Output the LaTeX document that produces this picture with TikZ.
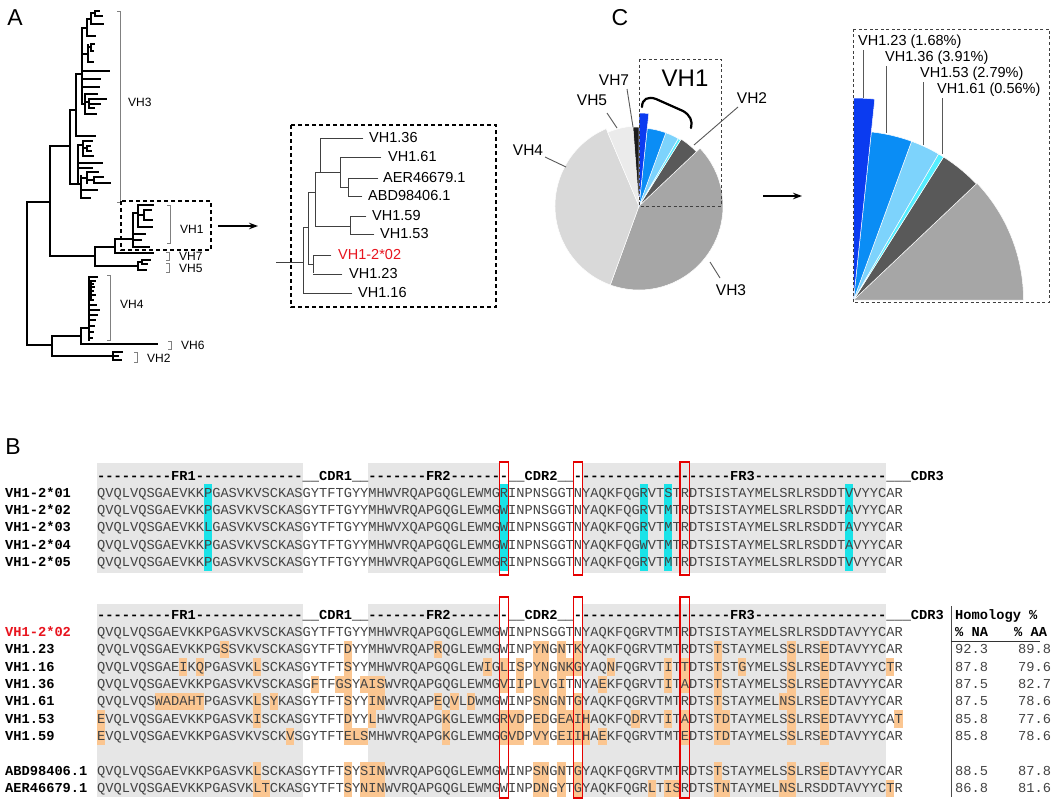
\documentclass[tikz,border=0pt]{standalone}
\usepackage{fontspec}
\setmainfont{Liberation Sans}
\usetikzlibrary{arrows.meta}
\font\seqfnt="Liberation Mono" at 13.7pt
\font\seqbf="Liberation Mono/B" at 13.7pt
\def\us{\char95 }
\definecolor{seqtext}{HTML}{444444}
\definecolor{bggrey}{HTML}{E6E6E6}
\definecolor{hlorange}{HTML}{FBC691}
\definecolor{hlcyan}{HTML}{19E3E8}
\definecolor{pieA}{HTML}{0B3BF0}
\definecolor{pieB}{HTML}{0A8DF5}
\definecolor{pieC}{HTML}{7DD3FC}
\definecolor{pieD}{HTML}{55EEFF}
\definecolor{pieVHtwo}{HTML}{595959}
\definecolor{pieVHthree}{HTML}{A6A6A6}
\definecolor{pieVHfour}{HTML}{D9D9D9}
\definecolor{pieVHfive}{HTML}{EBEBEB}
\definecolor{pieVHseven}{HTML}{1C1C1C}
\definecolor{myred}{HTML}{E8141E}
\newcommand\trH[3]{\draw[treeline] (#1,#3) -- (#2,#3);}
\newcommand\trV[3]{\draw[treeline] (#1,#2) -- (#1,#3);}
\newcommand\inH[3]{\draw[inline] (#1,#3) -- (#2,#3);}
\newcommand\inV[3]{\draw[inline] (#1,#2) -- (#1,#3);}
\newcommand\brk[3]{\draw[brk] (#1-3,#2) -- (#1,#2) -- (#1,#3) -- (#1-3,#3);}
\newcommand\hlrow[3]{\foreach \cc in {#3}{\fill[#1] ({97+\cc*8.22},{#2-8.67}) rectangle ({97+(\cc+1)*8.22},{#2+8.67});}}
\newcommand\redcol[3]{\draw[redbox] ({97+#1*8.22-0.6},#2) rectangle ({97+(#1+1)*8.22+0.6},#3);}
\newcommand\greyblk[4]{\fill[bggrey] ({97+#1*8.22},#3) rectangle ({97+#2*8.22},#4);}
\newcommand\sqrow[5]{\node[seqname,text=#5] (n#1) at (5,#2+4.2) {#3};
  \node[seqtxt] (s#1) at (97,#2+4.2) {#4};}
\newcommand\slice[4]{\fill[#4, draw=white, line width=0.5pt] (0,0) -- (#1:#3) arc[start angle=#1, end angle=#2, radius=#3] -- cycle;}
\newcommand\tabrow[4]{\node[tabtxt] (ta#1) at (955,#2+4.2) {#3};
  \node[tabtxt] (tb#1) at (1018,#2+4.2) {#4};}
\begin{document}
\begin{tikzpicture}[x=1pt,y=-1pt,
 treeline/.style={line width=1.2pt, black, line cap=rect},
 inline/.style={line width=0.9pt, black!75, line cap=rect},
 brk/.style={line width=0.7pt, black!50},
 lab/.style={font=\fontsize{12}{14}\selectfont, inner sep=0pt, anchor=west},
 ilab/.style={font=\fontsize{14.5}{16}\selectfont, inner sep=0pt, anchor=west},
 clab/.style={font=\fontsize{15.5}{17}\selectfont, inner sep=0pt},
 panel/.style={font=\fontsize{23}{26}\selectfont, inner sep=0pt},
 dbox/.style={line width=1.3pt, dash pattern=on 4pt off 3pt},
 gbox/.style={line width=0.9pt, black!75, dash pattern=on 3pt off 2.5pt},
 leader/.style={line width=0.9pt, black!65},
 redbox/.style={draw=red!90!black, line width=1.1pt},
 seqname/.style={anchor=base west, inner sep=0pt, font=\seqbf},
 seqtxt/.style={anchor=base west, inner sep=0pt, font=\seqfnt, text=seqtext},
 tabtxt/.style={anchor=base west, inner sep=0pt, font=\seqfnt, text=seqtext},
 tabhd/.style={anchor=base west, inner sep=0pt, font=\seqbf},
 arr/.style={-{Stealth[length=9pt,width=6.5pt]}, line width=1.3pt}]
\useasboundingbox (0,0) rectangle (1059,800);
\fill[white] (0,0) rectangle (1059,800);

% ---------------- panel letters
\node[panel] (lA) at (15,18) {A};
\node[panel] (lB) at (13,447) {B};
\node[panel] (lC) at (620,18) {C};

% ---------------- panel A : tree
\trV{27}{202}{345} \trH{27}{50}{202} \trV{50}{146}{256}
% VH3
\trH{50}{70}{146} \trV{70}{110}{184}
\trH{70}{76}{110} \trV{76}{74}{136} \trH{76}{95}{136}
\trH{76}{82}{74} \trV{82}{28}{104}
\trH{82}{87}{28} \trV{87}{19}{36}
\trH{87}{91}{19} \trV{91}{13}{24}
\trH{91}{95}{13} \trV{95}{11}{16} \trH{95}{99}{11} \trH{95}{102}{16}
\trH{91}{103}{24} \trH{87}{95}{36}
\trH{82}{88}{54} \trV{88}{45}{62}
\trH{88}{91}{47} \trV{91}{44}{51} \trH{91}{94}{44} \trH{91}{93}{51}
\trH{88}{93}{62}
\trH{82}{109}{71} \trH{82}{100}{79} \trH{82}{99}{87}
\trH{82}{85}{104} \trV{85}{94}{114}
\trH{85}{97}{94} \trH{85}{89}{102} \trV{89}{99}{108}
\trH{89}{106}{99} \trH{89}{100}{104} \trH{89}{94}{108}
\trH{85}{96}{114}
\trH{70}{78}{184} \trV{78}{145}{184}
\trH{78}{83}{145} \trV{83}{141}{156}
\trH{83}{92}{141} \trH{83}{87}{148} \trV{87}{146}{151} \trH{87}{90}{146} \trH{87}{91}{151}
\trH{83}{93}{156}
\trH{78}{102}{163} \trH{78}{92}{168}
\trH{78}{81}{184} \trV{81}{176}{198}
\trH{81}{87}{178} \trV{87}{172}{183} \trH{87}{98}{172}
\trH{87}{94}{180} \trV{94}{177}{183} \trH{94}{103}{177} \trH{94}{110}{183}
\trH{81}{97}{190} \trH{81}{90}{198}
% VH1 / VH7 / VH5
\trH{50}{95}{256} \trV{95}{247}{266}
\trH{95}{115}{247} \trV{115}{239}{253} \trH{115}{153}{253}
\trH{115}{133}{239} \trV{133}{213}{247}
\trH{133}{138}{213} \trV{138}{205}{227} \trH{138}{153}{205}
\trH{138}{144}{215} \trV{144}{210}{220} \trH{144}{151}{210} \trH{144}{152}{220}
\trH{138}{152}{227}
\trH{133}{145}{234} \trH{133}{141}{240} \trH{133}{149}{247}
\trH{95}{138}{266} \trV{138}{262}{270}
\trH{138}{142}{262} \trV{142}{260}{264} \trH{142}{150}{260} \trH{142}{147}{264}
\trH{138}{146}{270}
% lower part: VH4 VH6 VH2
\trH{27}{52}{345} \trV{52}{336}{356}
\trH{52}{81}{336} \trV{81}{328}{344} \trH{81}{157}{344}
\trH{81}{89}{328} \trV{89}{277}{340}
\trH{89}{97}{277} \trH{89}{91}{290} \trV{91}{281}{300}
\trH{91}{95}{281} \trH{91}{93}{284} \trH{91}{94}{287} \trH{91}{93}{291} \trH{91}{95}{295} \trH{91}{93}{300}
\trH{89}{96}{305} \trH{89}{99}{310} \trH{89}{97}{315} \trH{89}{95}{320}
\trH{89}{94}{326} \trH{89}{93}{332} \trH{89}{92}{338}
\trH{52}{113}{356} \trV{113}{352}{360}
\trH{113}{122}{352} \trH{113}{118}{356} \trH{113}{121}{360}
% brackets and labels
\brk{120}{11}{202} \node[lab] (tVH3) at (128,102) {VH3};
\brk{170}{205}{243} \node[lab] (tVH1) at (180,229) {VH1};
\brk{169}{252}{260} \node[lab] (tVH7) at (179,256) {VH7};
\brk{169}{263}{272} \node[lab] (tVH5) at (179,268) {VH5};
\brk{110}{275}{340} \node[lab] (tVH4) at (120,304) {VH4};
\brk{171}{341}{349} \node[lab] (tVH6) at (181,345) {VH6};
\brk{137}{352}{362} \node[lab] (tVH2) at (147,358) {VH2};
\draw[dbox] (121,201) rectangle (211,250);
\coordinate (aa1) at (218,226);
\coordinate (aa2) at (258,226);
\draw[arr] (aa1) -- (aa2);

% ---------------- panel A : inset
\draw[dbox] (291,125) rectangle (496,307);
\inH{276}{303}{262} \inV{303}{227}{293} \inH{303}{352}{293}
\inH{303}{308}{227} \inV{308}{192}{264}
\inH{308}{313}{264} \inV{313}{255}{273} \inH{313}{331}{255} \inH{313}{342}{274}
\inH{308}{315}{192} \inV{315}{172}{226}
\inH{315}{350}{226} \inV{350}{216}{234} \inH{350}{366}{216} \inH{350}{374}{234}
\inH{315}{340}{172} \inV{320}{138}{172} \inH{320}{363}{138}
\inV{340}{157}{187} \inH{340}{381}{157}
\inH{340}{348}{187} \inV{348}{178}{196} \inH{348}{378}{178} \inH{348}{362}{196}
\node[ilab] (i1) at (369,138) {VH1.36};
\node[ilab] (i2) at (388,157) {VH1.61};
\node[ilab] (i3) at (383,178) {AER46679.1};
\node[ilab] (i4) at (368,196) {ABD98406.1};
\node[ilab] (i5) at (372,216) {VH1.59};
\node[ilab] (i6) at (380,234) {VH1.53};
\node[ilab, text=myred] (i7) at (338,255) {VH1-2*02};
\node[ilab] (i8) at (349,274) {VH1.23};
\node[ilab] (i9) at (358,293) {VH1.16};

% ---------------- panel C : pie
\begin{scope}[shift={(639,206)}, x=1pt, y=1pt]
\slice{43.4}{-110}{84}{pieVHthree}
\slice{113}{250}{84}{pieVHfour}
\slice{94.4}{113}{80}{pieVHfive}
\slice{90}{94.4}{79}{pieVHseven}
\slice{57.8}{43.4}{79}{pieVHtwo}
\slice{59.8}{57.8}{78}{pieD}
\slice{69.9}{59.8}{78}{pieC}
\slice{83.95}{69.9}{78}{pieB}
\slice{90}{83.95}{93}{pieA}
\end{scope}
\draw[gbox] (639,59) rectangle (721,206);
\node[font=\fontsize{24}{26}\selectfont, inner sep=0pt] (cVH1) at (685,78) {VH1};
\draw[line width=2.2pt, line cap=round] (642,107) .. controls (642,99) and (648,96) .. (656,99) -- (683,111) .. controls (690,115) and (693,121) .. (691,128);
\node[clab] (cVH7) at (614,80) {VH7};
\node[clab] (cVH5) at (592,100) {VH5};
\node[clab] (cVH4) at (528,150) {VH4};
\node[clab] (cVH2) at (752,98) {VH2};
\node[clab] (cVH3) at (731,290) {VH3};
\coordinate (p7) at (633,127); \draw[leader] (p7) -- (627,89);
\coordinate (p5) at (617,128); \draw[leader] (p5) -- (607,113);
\coordinate (p4) at (566,167); \draw[leader] (p4) -- (545,157);
\coordinate (p2) at (694,145); \draw[leader] (p2) -- (738,107);
\coordinate (p3) at (710,262); \draw[leader] (p3) -- (720,278);
\coordinate (ca1) at (763,196);
\coordinate (ca2) at (802,196);
\draw[arr] (ca1) -- (ca2);

% ---------------- panel C : quarter
\begin{scope}[shift={(853.5,300)}, x=1pt, y=1pt]
\slice{0}{43.4}{170}{pieVHthree}
\slice{43.4}{57.8}{169}{pieVHtwo}
\slice{57.8}{59.8}{169}{pieD}
\slice{59.8}{69.9}{169}{pieC}
\slice{69.9}{83.95}{169}{pieB}
\slice{83.95}{90}{202}{pieA}
\end{scope}
\draw[gbox] (853,29) rectangle (1049,302);
\node[ilab] (q1) at (858,42) {VH1.23 (1.68\%)};
\node[ilab] (q2) at (885,58) {VH1.36 (3.91\%)};
\node[ilab] (q3) at (920,74) {VH1.53 (2.79\%)};
\node[ilab] (q4) at (937,90) {VH1.61 (0.56\%)};
\draw[leader] (863.3,50) -- (863.3,98);
\draw[leader] (886.7,66) -- (886.7,133);
\draw[leader] (923.3,82) -- (923.3,145);
\draw[leader] (942.3,98) -- (942.3,154);

% ---------------- panel B : backgrounds
\greyblk{0}{25}{463}{573} \greyblk{33}{49}{463}{573} \greyblk{59}{96}{463}{573}
\greyblk{0}{25}{604}{797} \greyblk{33}{49}{604}{797} \greyblk{59}{96}{604}{797}
\foreach \cc in {13,49,66,69,91} {\fill[hlcyan] ({97+\cc*8.22},484.3) rectangle ({97+(\cc+1)*8.22},571);}
\hlrow{hlorange}{649.6}{15,30,41,53,54,56,58,75,84,88}
\hlrow{hlorange}{667}{10,12,19,30,47,49,51,53,54,56,57,58,62,69,71,75,78,84,88,96}
\hlrow{hlorange}{684.3}{26,29,30,32,33,34,49,51,53,54,56,61,69,71,75,84,88}
\hlrow{hlorange}{701.6}{7,8,9,10,11,12,19,21,30,33,34,41,43,45,53,54,56,58,75,83,84,88}
\hlrow{hlorange}{719}{0,19,30,33,42,49,50,51,53,54,56,57,58,59,65,69,71,75,76,84,88,97}
\hlrow{hlorange}{736.3}{0,23,30,31,32,42,49,50,51,53,54,56,57,58,59,61,71,75,76,84,88}
\hlrow{hlorange}{771}{19,30,32,33,34,53,54,56,58,75,84,88}
\hlrow{hlorange}{788.3}{19,20,30,32,33,34,53,54,56,58,67,69,70,75,76,83,84,96}

% ---------------- panel B : headers
\node[seqname] (hd1) at (97,476+4.2) {---------FR1-------------\us\us CDR1\us\us-------FR2-------\us\us CDR2\us\us-------------------FR3----------------\us\us\us CDR3};
\node[seqname] (hd2) at (97,615+4.2) {---------FR1-------------\us\us CDR1\us\us-------FR2-------\us\us CDR2\us\us-------------------FR3----------------\us\us\us CDR3};

% ---------------- panel B : sequences
\sqrow{a1}{493}{VH1-2*01}{QVQLVQSGAEVKKPGASVKVSCKASGYTFTGYYMHWVRQAPGQGLEWMGRINPNSGGTNYAQKFQGRVTSTRDTSISTAYMELSRLRSDDTVVYYCAR}{black}
\sqrow{a2}{510.3}{VH1-2*02}{QVQLVQSGAEVKKPGASVKVSCKASGYTFTGYYMHWVRQAPGQGLEWMGWINPNSGGTNYAQKFQGRVTMTRDTSISTAYMELSRLRSDDTAVYYCAR}{black}
\sqrow{a3}{527.6}{VH1-2*03}{QVQLVQSGAEVKKLGASVKVSCKASGYTFTGYYMHWVXQAPGQGLEWMGWINPNSGGTNYAQKFQGRVTMTRDTSISTAYMELSRLRSDDTAVYYCAR}{black}
\sqrow{a4}{545}{VH1-2*04}{QVQLVQSGAEVKKPGASVKVSCKASGYTFTGYYMHWVRQAPGQGLEWMGWINPNSGGTNYAQKFQGWVTMTRDTSISTAYMELSRLRSDDTAVYYCAR}{black}
\sqrow{a5}{562.3}{VH1-2*05}{QVQLVQSGAEVKKPGASVKVSCKASGYTFTGYYMHWVRQAPGQGLEWMGRINPNSGGTNYAQKFQGRVTMTRDTSISTAYMELSRLRSDDTVVYYCAR}{black}

\sqrow{b0}{632.3}{VH1-2*02}{QVQLVQSGAEVKKPGASVKVSCKASGYTFTGYYMHWVRQAPGQGLEWMGWINPNSGGTNYAQKFQGRVTMTRDTSISTAYMELSRLRSDDTAVYYCAR}{myred}
\sqrow{b1}{649.6}{VH1.23}{QVQLVQSGAEVKKPGSSVKVSCKASGYTFTDYYMHWVRQAPRQGLEWMGWINPYNGNTKYAQKFQGRVTMTRDTSTSTAYMELSSLRSEDTAVYYCAR}{black}
\sqrow{b2}{667}{VH1.16}{QVQLVQSGAEIKQPGASVKLSCKASGYTFTSYYMHWVRQAPGQGLEWIGLISPYNGNKGYAQNFQGRVTITTDTSTSTGYMELSSLRSEDTAVYYCTR}{black}
\sqrow{b3}{684.3}{VH1.36}{QVQLVQSGAEVKKPGASVKVSCKASGFTFGSYAISWVRQAPGQGLEWMGVIIPLVGITNYAEKFQGRVTITADTSTSTAYMELSSLRSEDTAVYYCAR}{black}
\sqrow{b4}{701.6}{VH1.61}{QVQLVQSWADAHTPGASVKLSYKASGYTFTSYYINWVRQAPEQVLDWMGWINPSNGNTGYAQKFQGRVTMTRDTSTSTAYMELNSLRSEDTAVYYCAR}{black}
\sqrow{b5}{719}{VH1.53}{EVQLVQSGAEVKKPGASVKISCKASGYTFTDYYLHWVRQAPGKGLEWMGRVDPEDGEAIHAQKFQDRVTITADTSTDTAYMELSSLRSEDTAVYYCAT}{black}
\sqrow{b6}{736.3}{VH1.59}{EVQLVQSGAEVKKPGASVKVSCKVSGYTFTELSMHWVRQAPGKGLEWMGGVDPVYGEIIHAEKFQGRVTMTEDTSTDTAYMELSSLRSEDTAVYYCAR}{black}
\sqrow{b7}{771}{ABD98406.1}{QVQLVQSGAEVKKPGASVKLSCKASGYTFTSYSINWVRQAPGQGLEWMGWINPSNGNTGYAQKFQGRVTMTRDTSTSTAYMELSSLRSEDTAVYYCAR}{black}
\sqrow{b8}{788.3}{AER46679.1}{QVQLVQSGAEVKKPGASVKLTCKASGYTFTSYNINWVRQAPGQGLEWMGWINPDNGYTGYAQKFQGRLTISRDTSTNTAYMELNSLRSDDTAVYYCTR}{black}

% ---------------- panel B : red boxes
\foreach \cc in {49,58,71} {\redcol{\cc}{462}{575} \redcol{\cc}{597}{798}}

% ---------------- panel B : homology table
\draw[line width=1pt, black!70] (951,606) -- (951,797);
\node[tabhd] (thh) at (955,615+4.2) {Homology \%};
\node[tabhd] (thn) at (955,632.3+4.2) {\% NA};
\node[tabhd] (tha) at (1014,632.3+4.2) {\% AA};
\draw[line width=0.9pt, black!80] (951,641) -- (1040,641);
\tabrow{1}{649.6}{92.3}{89.8}
\tabrow{2}{667}{87.8}{79.6}
\tabrow{3}{684.3}{87.5}{82.7}
\tabrow{4}{701.6}{87.5}{78.6}
\tabrow{5}{719}{85.8}{77.6}
\tabrow{6}{736.3}{85.8}{78.6}
\tabrow{7}{771}{88.5}{87.8}
\tabrow{8}{788.3}{86.8}{81.6}
\end{tikzpicture}
\end{document}
